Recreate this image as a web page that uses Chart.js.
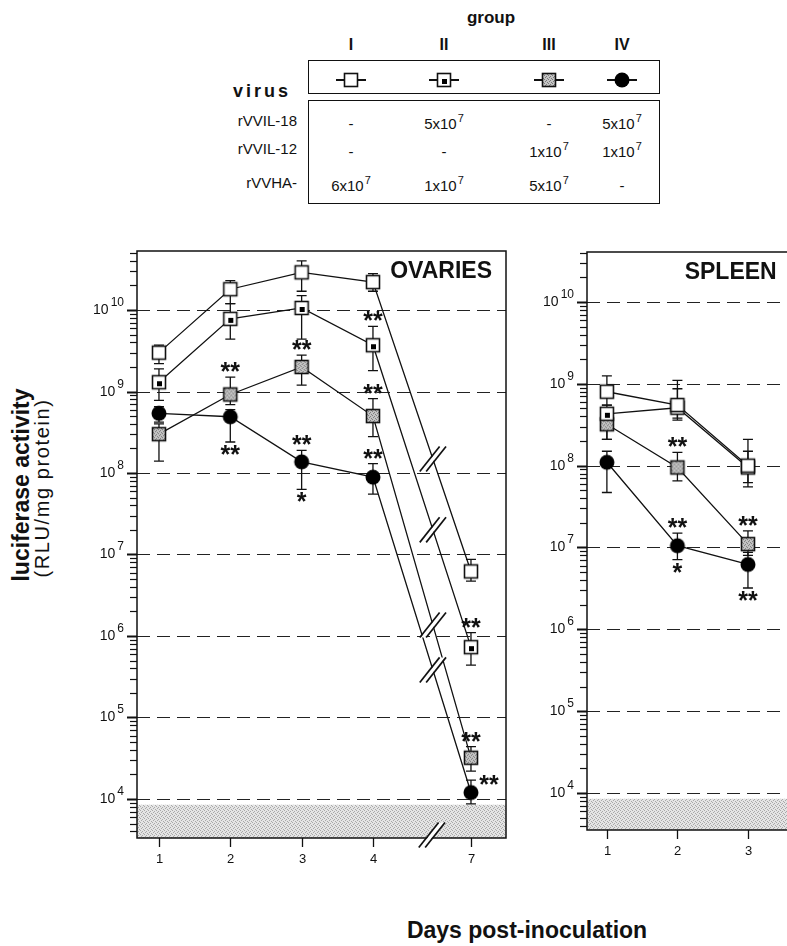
<!DOCTYPE html>
<html lang="en">
<head>
<meta charset="UTF-8">
<title>Luciferase activity - ovaries and spleen</title>
<script src="https://cdn.jsdelivr.net/npm/chart.js"></script>
<style>
  html, body { margin: 0; padding: 0; overflow: hidden; background: #fff; }
  body { position: relative; width: 787px; height: 946px; font-family: "Liberation Sans", Arial, Helvetica, sans-serif; color: #111; }
  .t { position: absolute; white-space: nowrap; transform: translate(-50%, -50%); line-height: 1; }
  .box { position: absolute; border: 1.5px solid #111; box-sizing: border-box; }
  .ex { font-size: 11px; position: relative; top: -7px; margin-left: 1px; }
  canvas { position: absolute; }
</style>
</head>
<body>

  <!-- legend table -->
  <div class="t" style="left:491px; top:17px; font-weight:bold; font-size:17px;">group</div>
  <div class="box" style="left:308px; top:60px; width:352px; height:34px;"></div>
  <div class="box" style="left:308px; top:100px; width:352px; height:104px;"></div>
  <div class="t" style="left:262px; top:91px; font-weight:bold; font-size:18px; letter-spacing:3px;">virus</div>
  <div id="table"></div>

  <!-- axis titles -->
  <div class="t" style="left:21px; top:485px; transform:translate(-50%,-50%) rotate(-90deg); font-weight:bold; font-size:23px;">luciferase activity</div>
  <div class="t" style="left:42px; top:488px; transform:translate(-50%,-50%) rotate(-90deg); font-size:20px; letter-spacing:1.6px;">(RLU/mg protein)</div>
  <div class="t" style="left:527px; top:930px; font-weight:bold; font-size:23px;">Days post-inoculation</div>

  <canvas id="ovaries" width="560" height="640" style="left:0; top:230px;"></canvas>
  <canvas id="spleen" width="280" height="640" style="left:520px; top:230px;"></canvas>

<script>
  // ---- table ----
  const groups = ['I', 'II', 'III', 'IV'];
  const viruses = ['rVVIL-18', 'rVVIL-12', 'rVVHA-'];
  const doseIL18 = ['-', '5x10^7', '-', '5x10^7'];
  const doseIL12 = ['-', '-', '1x10^7', '1x10^7'];
  const doseHA = ['6x10^7', '1x10^7', '5x10^7', '-'];

  // ---- ovaries (mean, upper and lower error bar) ----
  const ovaryDays = [1, 2, 3, 4, 7];
  const ovI     = [3.0e9, 1.8e10, 2.9e10, 2.2e10, 6.2e6];
  const ovIHi   = [3.7e9, 2.3e10, 4.0e10, 2.8e10, 8.7e6];
  const ovILo   = [2.2e9, 1.2e10, 1.7e10, 1.7e10, 4.7e6];
  const ovII    = [1.3e9, 7.8e9, 1.06e10, 3.7e9, 7.3e5];
  const ovIIHi  = [1.9e9, 1.2e10, 1.5e10, 6.3e9, 1.1e6];
  const ovIILo  = [7.8e8, 4.4e9, 4.4e9, 1.8e9, 4.4e5];
  const ovIII   = [3.0e8, 9.2e8, 2.0e9, 5.0e8, 3.2e4];
  const ovIIIHi = [4.0e8, 1.5e9, 2.8e9, 8.2e8, 4.4e4];
  const ovIIILo = [1.4e8, 6.9e8, 1.2e9, 2.8e8, 2.2e4];
  const ovIV    = [5.4e8, 4.9e8, 1.37e8, 8.9e7, 1.2e4];
  const ovIVHi  = [6.5e8, 6.0e8, 1.9e8, 1.3e8, 1.7e4];
  const ovIVLo  = [4.2e8, 2.4e8, 6.3e7, 5.5e7, 8.7e3];
  const ovIIStars   = ['', '', '', '**', '**'];
  const ovIIIStars  = ['', '**', '**', '**', '**'];
  const ovIVAbove   = ['', '', '**', '**', ''];
  const ovIVBelow   = ['', '**', '*', '', ''];
  const ovIVRight   = ['', '', '', '', '**'];

  // ---- spleen ----
  const spleenDays = [1, 2, 3];
  const spI     = [8.0e8, 5.5e8, 1.0e8];
  const spIHi   = [1.25e9, 1.1e9, 2.1e8];
  const spILo   = [5.5e8, 3.6e8, 5.5e7];
  const spII    = [4.3e8, 5.1e8, 9.5e7];
  const spIIHi  = [5.5e8, 8.7e8, 1.5e8];
  const spIILo  = [2.1e8, 3.8e8, 6.2e7];
  const spIII   = [3.2e8, 9.5e7, 1.1e7];
  const spIIIHi = [4.0e8, 1.45e8, 1.6e7];
  const spIIILo = [2.1e8, 6.5e7, 8.0e6];
  const spIV    = [1.1e8, 1.05e7, 6.2e6];
  const spIVHi  = [1.5e8, 1.5e7, 8.7e6];
  const spIVLo  = [4.7e7, 7.1e6, 3.2e6];
  const spIIIStars = ['', '**', '**'];
  const spIVAbove  = ['', '**', ''];
  const spIVBelow  = ['', '*', '**'];

  const detectionLimit = 8.5e3;
  const FONT = '"Liberation Sans", Arial, sans-serif';

  // broken x axis: days after 4 are compressed
  const dayPos = d => d <= 4 ? d : 4 + (d - 4) * 0.458;

  function stipple(base, dot) {
    const c = document.createElement('canvas');
    c.width = 4; c.height = 4;
    const g = c.getContext('2d');
    g.fillStyle = base; g.fillRect(0, 0, 4, 4);
    g.fillStyle = dot;
    g.fillRect(0, 0, 1, 1); g.fillRect(2, 1, 1, 1); g.fillRect(1, 2, 1, 1); g.fillRect(3, 3, 1, 1);
    return c;
  }
  const shadeTile = stipple('#e4e4e4', '#a8a8a8');
  const grayTile = stipple('#c4c4c4', '#7a7a7a');

  function makeMarker(kind) {
    const c = document.createElement('canvas');
    c.width = 18; c.height = 18;
    const g = c.getContext('2d');
    g.lineWidth = 1.6; g.strokeStyle = '#111';
    if (kind === 'circle') {
      g.fillStyle = '#000';
      g.beginPath(); g.arc(9, 9, 7.5, 0, Math.PI * 2); g.fill();
    } else {
      g.fillStyle = kind === 'gray' ? g.createPattern(grayTile, 'repeat') : '#fff';
      g.fillRect(2.5, 2.5, 13, 13);
      g.strokeRect(2.5, 2.5, 13, 13);
      if (kind === 'dot') { g.fillStyle = '#000'; g.fillRect(7, 8, 5, 5); }
    }
    return c;
  }
  const markerKinds = ['open', 'dot', 'gray', 'circle'];

  // build the table
  const colX = [351, 444, 549, 622];
  const rowY = [123, 151, 185];
  const tbl = document.getElementById('table');
  function addText(txt, x, y, style) {
    const d = document.createElement('div');
    d.className = 't';
    d.style.cssText = `left:${x}px; top:${y}px; ${style || ''}`;
    const m = txt.split('^');
    d.innerHTML = m[0] + (m[1] ? `<span class="ex">${m[1]}</span>` : '');
    tbl.appendChild(d);
  }
  groups.forEach((g, i) => {
    addText(g, colX[i], 45, 'font-weight:bold; font-size:16px;');
    const line = document.createElement('div');
    line.style.cssText = `position:absolute; left:${colX[i] - 15}px; top:79px; width:30px; height:1.5px; background:#111;`;
    tbl.appendChild(line);
    const mk = makeMarker(markerKinds[i]);
    mk.style.left = (colX[i] - 9) + 'px';
    mk.style.top = (80 - 9) + 'px';
    tbl.appendChild(mk);
  });
  viruses.forEach((v, r) => {
    const d = document.createElement('div');
    d.className = 't';
    d.style.cssText = `left:297px; top:${rowY[r] - 3}px; transform:translate(-100%,-50%); font-size:15px;`;
    d.textContent = v;
    tbl.appendChild(d);
  });
  [doseIL18, doseIL12, doseHA].forEach((row, r) => {
    row.forEach((v, c) => addText(v, colX[c], rowY[r], 'font-size:15px;'));
  });

  function series(days, mean, hi, lo, kind, extra) {
    return Object.assign({
      data: days.map((d, i) => ({ x: dayPos(d), y: mean[i] })),
      hi, lo,
      pointStyle: makeMarker(kind),
      borderColor: '#111',
      borderWidth: 1.3,
      tension: 0
    }, extra || {});
  }

  function drawBreak(ctx, cx, cy) {
    const ux = 0.62, uy = -0.785, L = 16, off = 3.2;
    ctx.save();
    ctx.fillStyle = '#fff';
    ctx.beginPath();
    ctx.moveTo(cx - off + 1 - ux * L, cy - uy * L);
    ctx.lineTo(cx - off + 1 + ux * L, cy + uy * L);
    ctx.lineTo(cx + off - 1 + ux * L, cy + uy * L);
    ctx.lineTo(cx + off - 1 - ux * L, cy - uy * L);
    ctx.closePath(); ctx.fill();
    ctx.strokeStyle = '#111'; ctx.lineWidth = 1.7;
    [-off, off].forEach(dx => {
      ctx.beginPath();
      ctx.moveTo(cx + dx - ux * L, cy - uy * L);
      ctx.lineTo(cx + dx + ux * L, cy + uy * L);
      ctx.stroke();
    });
    ctx.restore();
  }

  function star(ctx, txt, x, y) {
    ctx.fillText(txt, x, y + 14);
  }

  const panelPlugin = {
    id: 'panel',
    beforeDatasetsDraw(chart, args, o) {
      const { ctx, chartArea: a, scales: { y } } = chart;
      ctx.save();
      const yl = y.getPixelForValue(detectionLimit);
      ctx.fillStyle = ctx.createPattern(shadeTile, 'repeat');
      ctx.fillRect(a.left, yl, a.right - a.left, a.bottom - yl);

      ctx.strokeStyle = '#222'; ctx.lineWidth = 1; ctx.setLineDash([13, 7]);
      for (let e = 4; e <= 10; e++) {
        const py = Math.round(y.getPixelForValue(Math.pow(10, e))) + 0.5;
        ctx.beginPath(); ctx.moveTo(a.left, py); ctx.lineTo(a.right, py); ctx.stroke();
      }
      ctx.setLineDash([]);

      ctx.strokeStyle = '#111'; ctx.lineWidth = 1.3;
      chart.data.datasets.forEach((ds, i) => {
        chart.getDatasetMeta(i).data.forEach((p, j) => {
          const t = y.getPixelForValue(ds.hi[j]), b = y.getPixelForValue(ds.lo[j]);
          ctx.beginPath();
          ctx.moveTo(p.x, t); ctx.lineTo(p.x, b);
          ctx.moveTo(p.x - 5, t); ctx.lineTo(p.x + 5, t);
          ctx.moveTo(p.x - 5, b); ctx.lineTo(p.x + 5, b);
          ctx.stroke();
        });
      });
      ctx.restore();
    },
    afterDatasetsDraw(chart, args, o) {
      const { ctx, chartArea: a, scales: { x, y } } = chart;
      ctx.save();

      // axis break marks
      if (o.breakAt) {
        const bx = x.getPixelForValue(o.breakAt);
        chart.data.datasets.forEach((ds, i) => {
          const pts = chart.getDatasetMeta(i).data;
          const p = pts[3], q = pts[4];
          const t = (bx - p.x) / (q.x - p.x);
          drawBreak(ctx, bx, p.y + t * (q.y - p.y));
        });
      }

      // significance stars
      ctx.fillStyle = '#111'; ctx.font = 'bold 25px ' + FONT; ctx.textAlign = 'center';
      chart.data.datasets.forEach((ds, i) => {
        chart.getDatasetMeta(i).data.forEach((p, j) => {
          const t = y.getPixelForValue(ds.hi[j]), b = y.getPixelForValue(ds.lo[j]);
          if (ds.above && ds.above[j]) star(ctx, ds.above[j], p.x, t - 11);
          if (ds.below && ds.below[j]) star(ctx, ds.below[j], p.x, b + 7);
          if (ds.right && ds.right[j]) star(ctx, ds.right[j], p.x + 18, p.y - 14);
        });
      });

      // frame
      ctx.strokeStyle = '#111'; ctx.lineWidth = 1.5;
      ctx.strokeRect(a.left, a.top, a.right - a.left, a.bottom - a.top);

      // y ticks
      for (let e = 3; e <= 10; e++) {
        for (let m = 1; m <= 9; m++) {
          const v = m * Math.pow(10, e);
          if (v < y.min || v > y.max) continue;
          const py = Math.round(y.getPixelForValue(v)) + 0.5;
          const len = m === 1 ? 10 : 7;
          ctx.lineWidth = m === 1 ? 2 : 1.2;
          ctx.beginPath(); ctx.moveTo(a.left - len, py); ctx.lineTo(a.left, py); ctx.stroke();
        }
      }
      for (let e = 4; e <= 10; e++) {
        const py = y.getPixelForValue(Math.pow(10, e));
        ctx.font = '12px ' + FONT;
        const ew = ctx.measureText(String(e)).width;
        ctx.textAlign = 'left';
        ctx.fillText(String(e), a.left - 13 - ew, py - 4);
        ctx.font = '14px ' + FONT;
        ctx.textAlign = 'right';
        ctx.fillText('10', a.left - 15 - ew, py + 4);
      }

      // x ticks
      ctx.lineWidth = 1.3; ctx.font = '13px ' + FONT; ctx.textAlign = 'center';
      o.days.forEach(d => {
        const px = Math.round(x.getPixelForValue(dayPos(d))) + 0.5;
        ctx.beginPath(); ctx.moveTo(px, a.bottom); ctx.lineTo(px, a.bottom + 9); ctx.stroke();
        ctx.fillText(String(d), px, a.bottom + 25);
      });
      if (o.breakAt) drawBreak(ctx, x.getPixelForValue(o.breakAt) - 1, a.bottom - 3);

      // panel title
      ctx.font = 'bold 23px ' + FONT; ctx.textAlign = 'right';
      ctx.fillText(o.title, a.right - 14, a.top + 27);
      ctx.restore();
    }
  };

  function makeChart(id, datasets, opts) {
    return new Chart(document.getElementById(id), {
      type: 'line',
      data: { datasets },
      options: {
        responsive: false,
        animation: false,
        devicePixelRatio: 1,
        layout: { padding: opts.padding },
        plugins: {
          legend: { display: false },
          tooltip: { enabled: false },
          panel: opts
        },
        scales: {
          x: { type: 'linear', display: false, min: opts.xMin, max: opts.xMax },
          y: { type: 'logarithmic', display: false, min: opts.yMin, max: opts.yMax }
        },
        elements: { point: { radius: 8 } }
      },
      plugins: [panelPlugin]
    });
  }

  makeChart('ovaries', [
    series(ovaryDays, ovI, ovIHi, ovILo, 'open'),
    series(ovaryDays, ovII, ovIIHi, ovIILo, 'dot', { above: ovIIStars }),
    series(ovaryDays, ovIII, ovIIIHi, ovIIILo, 'gray', { above: ovIIIStars }),
    series(ovaryDays, ovIV, ovIVHi, ovIVLo, 'circle', { above: ovIVAbove, below: ovIVBelow, right: ovIVRight })
  ], {
    title: 'OVARIES', days: ovaryDays, breakAt: 4.84,
    padding: { left: 137, top: 21, right: 54, bottom: 32 },
    xMin: 0.692, xMax: 5.865, yMin: 3.32e3, yMax: 5.3e10
  });

  makeChart('spleen', [
    series(spleenDays, spI, spIHi, spILo, 'open'),
    series(spleenDays, spII, spIIHi, spIILo, 'dot'),
    series(spleenDays, spIII, spIIIHi, spIIILo, 'gray', { above: spIIIStars }),
    series(spleenDays, spIV, spIVHi, spIVLo, 'circle', { above: spIVAbove, below: spIVBelow })
  ], {
    title: 'SPLEEN', days: spleenDays,
    padding: { left: 67, top: 22, right: 8, bottom: 40 },
    xMin: 0.718, xMax: 3.606, yMin: 3.53e3, yMax: 4.08e10
  });
</script>
</body>
</html>
